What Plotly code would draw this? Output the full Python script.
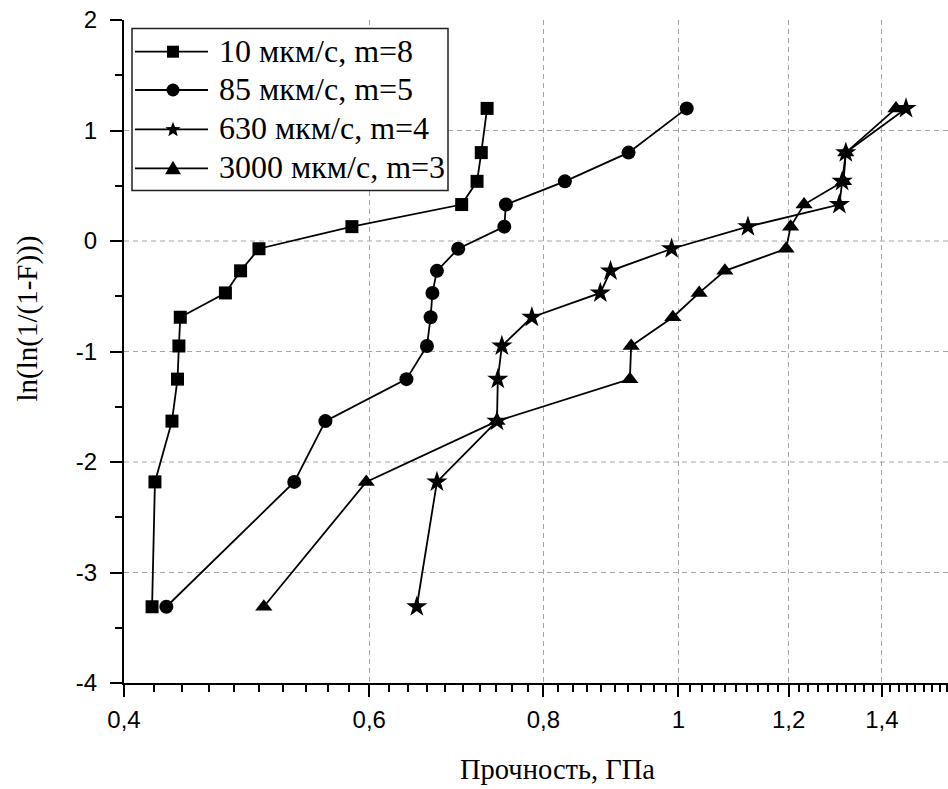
import math
import plotly.graph_objects as go

# ---- data ----
y_vals = [-3.31, -2.18, -1.63, -1.25, -0.95, -0.69, -0.47, -0.27, -0.07, 0.13, 0.33, 0.54, 0.80, 1.20]

strength_10 = [0.419, 0.421, 0.433, 0.437, 0.438, 0.439, 0.473, 0.485, 0.500, 0.583, 0.699, 0.717, 0.722, 0.729]
strength_85 = [0.429, 0.530, 0.558, 0.638, 0.660, 0.664, 0.666, 0.671, 0.695, 0.750, 0.752, 0.829, 0.921, 1.014]
strength_630 = [0.649, 0.671, 0.741, 0.742, 0.747, 0.785, 0.879, 0.894, 0.989, 1.122, 1.305, 1.311, 1.319, 1.457]
strength_3000 = [0.504, 0.597, 0.741, 0.923, 0.925, 0.991, 1.035, 1.080, 1.195, 1.204, 1.231, 1.314, 1.319, 1.433]

series_names = ["10 мкм/с, m=8", "85 мкм/с, m=5", "630 мкм/с, m=4", "3000 мкм/с, m=3"]

x_tick_vals = [0.4, 0.6, 0.8, 1.0, 1.2, 1.4]
x_tick_text = ["0,4", "0,6", "0,8", "1", "1,2", "1,4"]
x_extra_minor = [1.41, 1.43, 1.45, 1.47, 1.49, 1.51, 1.53, 1.55]
y_tick_vals = [-4, -3, -2, -1, 0, 1, 2]
y_tick_text = ["-4", "-3", "-2", "-1", "0", "1", "2"]
y_grid_vals = [-3, -2, -1, 0, 1]

x_title = "Прочность, ГПа"
y_title = "ln(ln(1/(1-F)))"

# ---- geometry / styles ----
W, H = 948, 789
ML, MR, MT, MB = 124, 0, 20, 106
PW, PH = W - ML - MR, H - MT - MB
X_MIN, X_MAX = 0.4, 1.5617
X_RANGE = [math.log10(X_MIN), math.log10(X_MAX)]


def px(x):
    return (x - ML) / PW


def py(y):
    return 1 - (y - MT) / PH


serif = "Liberation Serif, Times New Roman, serif"
sans = "Liberation Sans, Arial, sans-serif"
symbols = ["square", "circle", "star", "triangle-up"]
sizes = [13, 14, 16, 15]

fig = go.Figure()
for name, xs, sym, sz in zip(series_names,
                             [strength_10, strength_85, strength_630, strength_3000],
                             symbols, sizes):
    fig.add_trace(go.Scatter(
        x=xs, y=y_vals, mode="lines+markers", name=name, showlegend=False,
        line=dict(color="black", width=1.8),
        marker=dict(symbol=sym, size=sz, color="black", line=dict(width=0)),
    ))

# horizontal dashed grid (no line at the top edge)
for yv in y_grid_vals:
    fig.add_shape(type="line", xref="paper", x0=0, x1=1, yref="y", y0=yv, y1=yv,
                  line=dict(color="#a6a6a6", width=1, dash="5px,4px"), layer="below")

# ---- custom legend (box, sample lines, sample markers, labels) ----
LG_L, LG_T, LG_R, LG_B = 132, 28.5, 448, 190.5
row_y = [51.7, 90.0, 129.3, 168.3]
line_x0, line_x1, mark_x, text_x = 135, 208, 173, 216.5

fig.add_shape(type="rect", xref="paper", yref="paper",
              x0=px(LG_L), x1=px(LG_R), y0=py(LG_B), y1=py(LG_T),
              line=dict(color="#222222", width=1.5), fillcolor="white", layer="above")


def poly_path(points):
    return "M " + " L ".join(f"{px(a):.5f},{py(b):.5f}" for a, b in points) + " Z"


for i, (name, sym) in enumerate(zip(series_names, symbols)):
    ry = row_y[i]
    fig.add_shape(type="line", xref="paper", yref="paper",
                  x0=px(line_x0), x1=px(line_x1), y0=py(ry), y1=py(ry),
                  line=dict(color="black", width=1.8), layer="above")
    if sym == "square":
        h = 6
        fig.add_shape(type="rect", xref="paper", yref="paper",
                      x0=px(mark_x - h), x1=px(mark_x + h), y0=py(ry + h), y1=py(ry - h),
                      fillcolor="black", line=dict(width=0), layer="above")
    elif sym == "circle":
        r = 6.5
        fig.add_shape(type="circle", xref="paper", yref="paper",
                      x0=px(mark_x - r), x1=px(mark_x + r), y0=py(ry + r), y1=py(ry - r),
                      fillcolor="black", line=dict(width=0), layer="above")
    elif sym == "star":
        R, r = 8, 3.4
        pts = []
        for k in range(10):
            ang = math.radians(-90 + 36 * k)
            rad = R if k % 2 == 0 else r
            pts.append((mark_x + rad * math.cos(ang), ry + 0.5 + rad * math.sin(ang)))
        fig.add_shape(type="path", xref="paper", yref="paper", path=poly_path(pts),
                      fillcolor="black", line=dict(width=0), layer="above")
    else:
        pts = [(mark_x, ry - 7.5), (mark_x + 8, ry + 6), (mark_x - 8, ry + 6)]
        fig.add_shape(type="path", xref="paper", yref="paper", path=poly_path(pts),
                      fillcolor="black", line=dict(width=0), layer="above")
    fig.add_annotation(text=name, xref="paper", yref="paper", x=px(text_x), y=py(ry - 1),
                       xanchor="left", yanchor="middle", showarrow=False,
                       font=dict(family=serif, size=32, color="black"))

# ---- axis titles ----
fig.add_annotation(text=x_title, xref="paper", yref="paper", x=px(557), y=py(769.5),
                   xanchor="center", yanchor="middle", showarrow=False,
                   font=dict(family=serif, size=28.5, color="black"))
fig.add_annotation(text=y_title, xref="paper", yref="paper", x=px(27.5), y=py(319),
                   xanchor="center", yanchor="middle", showarrow=False, textangle=-90,
                   font=dict(family=serif, size=29, color="black"))

fig.update_layout(
    width=W, height=H,
    margin=dict(l=ML, r=MR, t=MT, b=MB),
    paper_bgcolor="white", plot_bgcolor="white",
    showlegend=False,
    xaxis=dict(
        type="log",
        range=X_RANGE,
        tickvals=x_tick_vals, ticktext=x_tick_text,
        ticks="outside", ticklen=12, tickwidth=2, tickcolor="black",
        ticklabelstandoff=2,
        showline=True, linewidth=2, linecolor="black",
        showgrid=True, gridcolor="#a6a6a6", gridwidth=1, griddash="5px,4px",
        zeroline=False,
        minor=dict(dtick="L0.02", ticks="outside", ticklen=7, tickwidth=1.5,
                   tickcolor="black", showgrid=False),
        tickfont=dict(family=sans, size=24, color="black"),
    ),
    # extra minor ticks past 1.4 (denser, as in the reference)
    xaxis2=dict(
        type="log", range=X_RANGE, overlaying="x", anchor="y", side="bottom",
        tickvals=x_extra_minor, ticks="outside", ticklen=7, tickwidth=1.5,
        tickcolor="black", showticklabels=False, showgrid=False, showline=False,
        zeroline=False,
    ),
    yaxis=dict(
        range=[-4, 2],
        tickvals=y_tick_vals, ticktext=y_tick_text,
        ticks="outside", ticklen=12, tickwidth=2, tickcolor="black",
        ticklabelstandoff=8,
        showline=True, linewidth=2, linecolor="black",
        showgrid=False, zeroline=False,
        minor=dict(dtick=0.5, tick0=0, ticks="outside", ticklen=7, tickwidth=1.5,
                   tickcolor="black", showgrid=False),
        tickfont=dict(family=sans, size=24, color="black"),
    ),
)

fig.write_html("out.html", config={"displayModeBar": False},
               post_script="document.body.style.margin='0';")
